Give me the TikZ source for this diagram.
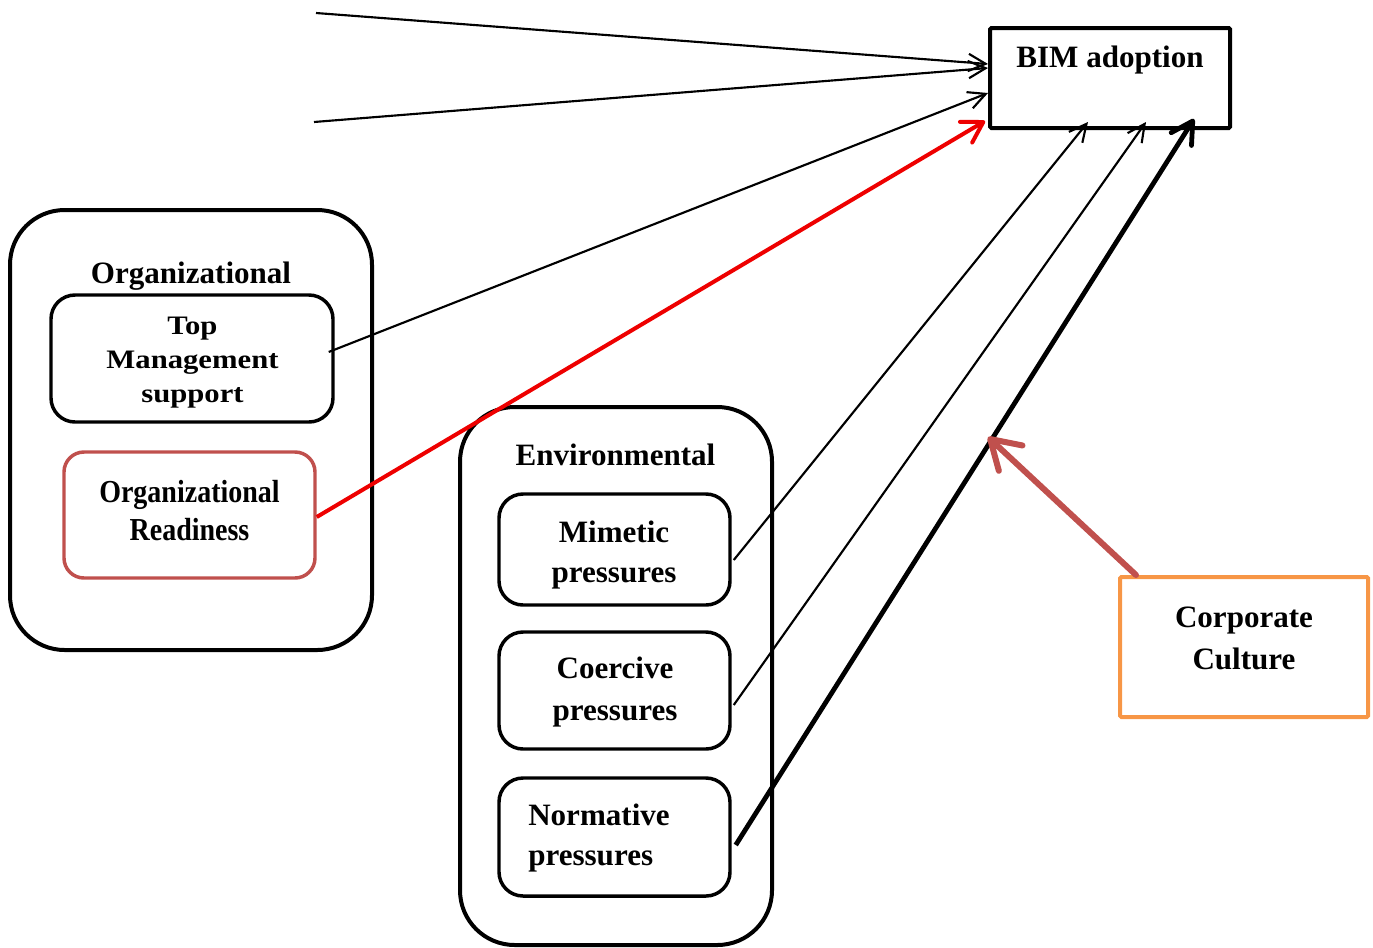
\documentclass[tikz,border=0pt]{standalone}
\usepackage{fontspec}
\setmainfont{Liberation Serif}
\newfontfamily\widefont[FakeStretch=1.15]{Liberation Serif}
\newfontfamily\narrowfont[FakeStretch=0.875]{Liberation Serif}
\usetikzlibrary{arrows.meta}
\definecolor{readyred}{RGB}{192,80,77}
\definecolor{cultorange}{RGB}{247,150,70}
\definecolor{linkred}{RGB}{238,0,0}
\begin{document}
\begin{tikzpicture}[x=0.75pt,y=-0.75pt,
  frame/.style={draw, line width=3pt, rounded corners=41pt, inner sep=0pt},
  factor/.style={draw, line width=2.6pt, rounded corners=18pt, inner sep=0pt},
  target/.style={draw, line width=3pt, rounded corners=1pt, inner sep=0pt},
  % multi-line texts are placed by the baseline of their last line
  txt/.style={inner sep=0pt, anchor=base, align=center,
    font=\bfseries\fontsize{23.3}{30}\selectfont},
  thinlink/.style={line width=1.6pt, -{Straight Barb[length=13pt,width=13pt]}},
  redlink/.style={draw=linkred, line width=3pt,
    -{Straight Barb[length=15pt,width=18pt,round]}},
  boldlink/.style={line width=3.6pt, -{Straight Barb[length=16pt,width=18pt,round]}},
  culturelink/.style={draw=readyred, line width=4.5pt, line cap=round,
    -{Straight Barb[length=21pt,width=26pt,round]}}
]
\useasboundingbox (0,0) rectangle (1373,947);

% target construct
\node[target, minimum width=180pt, minimum height=75pt] (bim) at (1110,78) {};
\node[txt] (bimtxt) at (1110,67) {BIM adoption};

% organizational context
\node[frame, minimum width=271.5pt, minimum height=330pt] (org) at (191,430) {};
\node[txt] (orgtxt) at (191,283) {Organizational};
\node[factor, minimum width=211.5pt, minimum height=95.25pt] (top) at (192,358.5) {};
\node[txt, font=\bfseries\widefont\fontsize{20}{25.5}\selectfont] (toptxt) at (192.5,402)
  {Top\\Management\\support};
\node[factor, draw=readyred, rounded corners=15pt, minimum width=188.25pt, minimum height=94.5pt]
  (rdy) at (189.5,515) {};
\node[txt, font=\bfseries\narrowfont\fontsize{24}{28.5}\selectfont] (rdytxt) at (189.5,540)
  {Organizational\\Readiness};

% environmental context
\node[frame, minimum width=234pt, minimum height=403.5pt] (env) at (616,676) {};
\node[txt] (envtxt) at (615.5,465) {Environmental};
\node[factor, minimum width=173.25pt, minimum height=83.25pt] (mim) at (614.5,549.5) {};
\node[txt] (mimtxt) at (614,582) {Mimetic\\pressures};
\node[factor, minimum width=173.25pt, minimum height=87.75pt] (coe) at (614.5,690.5) {};
\node[txt, font=\bfseries\fontsize{23.3}{31.5}\selectfont] (coetxt) at (615,720)
  {Coercive\\pressures};
\node[factor, minimum width=173.25pt, minimum height=88.5pt] (nor) at (614.5,837) {};
\node[txt, anchor=base west, align=left] (nortxt) at (528,865) {Normative\\pressures};

% moderator
\node[target, draw=cultorange, rounded corners=1pt, minimum width=186pt, minimum height=105pt]
  (cc) at (1244,647) {};
\node[txt, font=\bfseries\fontsize{23.3}{31.5}\selectfont] (cctxt) at (1244,669)
  {Corporate\\Culture};

% links from factors outside the view
\coordinate (srcA) at (316,13);
\coordinate (srcB) at (314,122);
\coordinate (cctip) at (988,437);

\draw[thinlink] (srcA) -- ([yshift=10.5pt]bim.west);
\draw[thinlink] (srcB) -- ([yshift=7.5pt]bim.west);
\draw[thinlink] ([xshift=-4.5pt,yshift=4.9pt]top.east) -- ([yshift=-11.25pt]bim.west);
\draw[redlink] ([yshift=-1.5pt]rdy.east) -- ([xshift=-2.25pt,yshift=6.75pt]bim.south west);
\draw[thinlink] ([xshift=1.5pt,yshift=-7.9pt]mim.east) -- ([xshift=75pt,yshift=6pt]bim.south west);
\draw[thinlink] ([xshift=1.5pt,yshift=-10.9pt]coe.east) -- ([xshift=118.5pt,yshift=6pt]bim.south west);
\draw[boldlink] ([xshift=3pt,yshift=-6pt]nor.east) -- ([xshift=154.5pt,yshift=8.25pt]bim.south west);
\draw[culturelink] ([xshift=13.5pt]cc.north west) -- (cctip);
\end{tikzpicture}
\end{document}
